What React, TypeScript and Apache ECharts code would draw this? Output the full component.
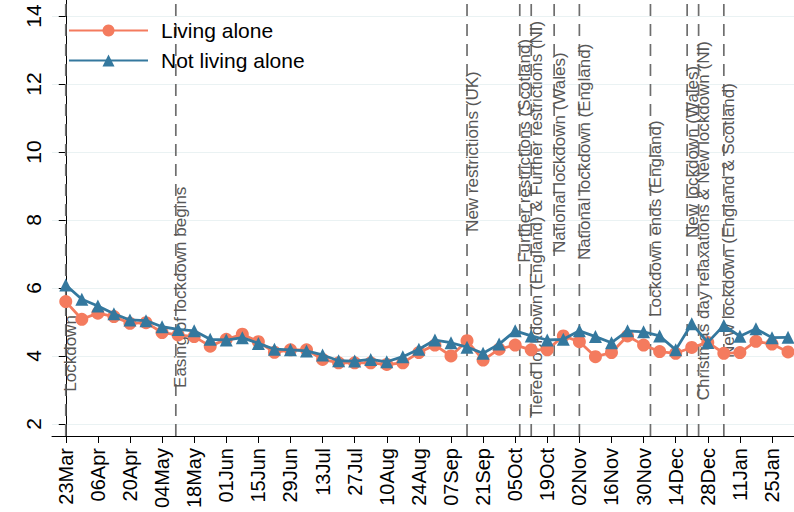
import React, { useEffect, useRef } from 'react';
import * as echarts from 'echarts';

const xTickLabels = ['23Mar','06Apr','20Apr','04May','18May','01Jun','15Jun','29Jun','13Jul','27Jul','10Aug','24Aug','07Sep','21Sep','05Oct','19Oct','02Nov','16Nov','30Nov','14Dec','28Dec','11Jan','25Jan'];
const yTicks = [2, 4, 6, 8, 10, 12, 14];

const livingAlone = [5.6,5.08,5.26,5.16,4.96,4.98,4.69,4.62,4.57,4.29,4.49,4.64,4.42,4.11,4.18,4.18,3.9,3.8,3.8,3.8,3.75,3.8,4.1,4.32,4.0,4.45,3.88,4.2,4.32,4.18,4.18,4.59,4.42,3.98,4.1,4.59,4.32,4.13,4.08,4.25,4.4,4.08,4.1,4.43,4.35,4.12];
const notLivingAlone = [6.09,5.67,5.47,5.24,5.06,5.04,4.86,4.78,4.74,4.49,4.47,4.54,4.37,4.2,4.18,4.15,4.03,3.86,3.85,3.9,3.83,3.98,4.2,4.47,4.39,4.26,4.08,4.35,4.74,4.59,4.47,4.49,4.74,4.57,4.39,4.74,4.71,4.59,4.18,4.95,4.4,4.9,4.58,4.8,4.54,4.55];

const eventDates = ['2020-03-23','2020-05-10','2020-09-14','2020-10-07','2020-10-12','2020-10-22','2020-11-02','2020-12-03','2020-12-19','2020-12-24','2021-01-04'];
const eventLabels = ['Lockdown','Easing of lockdown begins','New restrictions (UK)','Further restrictions (Scotland)','Tiered lockdown (England) & Further restrictions (NI)','National lockdown (Wales)','National lockdown (England)','Lockdown ends (England)','New lockdown (Wales)','Christmas day relaxations & New lockdown (NI)','New lockdown (England & Scotland)'];
const eventLabelY = [2.95,3.06,7.65,6.74,2.18,7.03,6.82,5.15,7.47,2.7,3.94];

const BASE = Date.UTC(2020, 2, 23);
const dayOf = (s: string) => {
  const [y, m, d] = s.split('-').map(Number);
  return (Date.UTC(y, m - 1, d) - BASE) / 86400000;
};

const FONT = 'Liberation Sans, Arial, sans-serif';

export default function App() {
  const ref = useRef<HTMLDivElement>(null);
  useEffect(() => {
    if (!ref.current) return;
    const chart = echarts.init(ref.current, undefined, { renderer: 'svg' });
    const la = livingAlone.map((v, i) => [i * 7, v]);
    const nla = notLivingAlone.map((v, i) => [i * 7, v]);
    const events = eventDates.map((d, i) => [dayOf(d), eventLabelY[i]]);
    chart.setOption({
      animation: false,
      textStyle: { fontFamily: FONT },
      grid: { left: 52, right: 0, top: 0, bottom: 76, containLabel: false },
      legend: {
        orient: 'vertical',
        left: 63,
        top: 15,
        itemWidth: 79,
        itemHeight: 15,
        itemGap: 9,
        data: ['Living alone', 'Not living alone'],
        textStyle: { fontSize: 21, color: '#000', fontFamily: FONT, padding: [0, 0, 0, 8] },
      },
      xAxis: {
        type: 'value',
        min: -6,
        max: 317.6,
        axisLine: { show: true, lineStyle: { color: '#000', width: 1 } },
        axisTick: { show: true, length: 7, lineStyle: { color: '#000' }, customValues: xTickLabels.map((_, i) => i * 14) },
        axisLabel: {
          rotate: 90,
          fontSize: 20,
          color: '#000',
          margin: 12,
          fontFamily: FONT,
          customValues: xTickLabels.map((_, i) => i * 14),
          formatter: (v: number) => xTickLabels[Math.round(v / 14)] ?? '',
        },
        splitLine: { show: false },
      },
      yAxis: {
        type: 'value',
        min: 1.647,
        max: 14.47,
        axisLine: { show: true, lineStyle: { color: '#000', width: 1 } },
        axisTick: { show: true, length: 7, lineStyle: { color: '#000' }, customValues: yTicks },
        axisLabel: { rotate: 90, fontSize: 21, color: '#000', margin: 8, fontFamily: FONT, customValues: yTicks },
        splitLine: { show: true, lineStyle: { color: '#EAF2F3', width: 1 } },
      },
      series: [
        {
          type: 'custom',
          name: 'events',
          z: 1,
          silent: true,
          data: events,
          renderItem: (params: any, api: any) => {
            const x = api.coord([api.value(0), 5])[0];
            const yText = api.coord([0, api.value(1)])[1];
            const cs = params.coordSys;
            return {
              type: 'group',
              children: [
                {
                  type: 'line',
                  shape: { x1: x, y1: cs.y + cs.height, x2: x, y2: cs.y },
                  style: { stroke: '#6E6E6E', lineWidth: 1.7, lineDash: [12, 8] },
                },
                {
                  type: 'text',
                  x: x + 5,
                  y: yText,
                  rotation: Math.PI / 2,
                  style: {
                    text: eventLabels[params.dataIndex],
                    fill: '#575757',
                    fontSize: 17,
                    fontFamily: FONT,
                    align: 'left',
                    verticalAlign: 'middle',
                  },
                },
              ],
            };
          },
        },
        {
          type: 'line',
          name: 'Living alone',
          z: 2,
          data: la,
          symbol: 'circle',
          symbolSize: 13,
          itemStyle: { color: '#F47B5E' },
          lineStyle: { color: '#F47B5E', width: 2.8 },
        },
        {
          type: 'line',
          name: 'Not living alone',
          z: 3,
          data: nla,
          symbol: 'triangle',
          symbolSize: 13,
          itemStyle: { color: '#34789E' },
          lineStyle: { color: '#34789E', width: 2.8 },
        },
      ],
    });
    return () => chart.dispose();
  }, []);
  return <div ref={ref} style={{ position: 'fixed', left: 0, top: 0, width: 794, height: 512, background: '#fff' }} />;
}
